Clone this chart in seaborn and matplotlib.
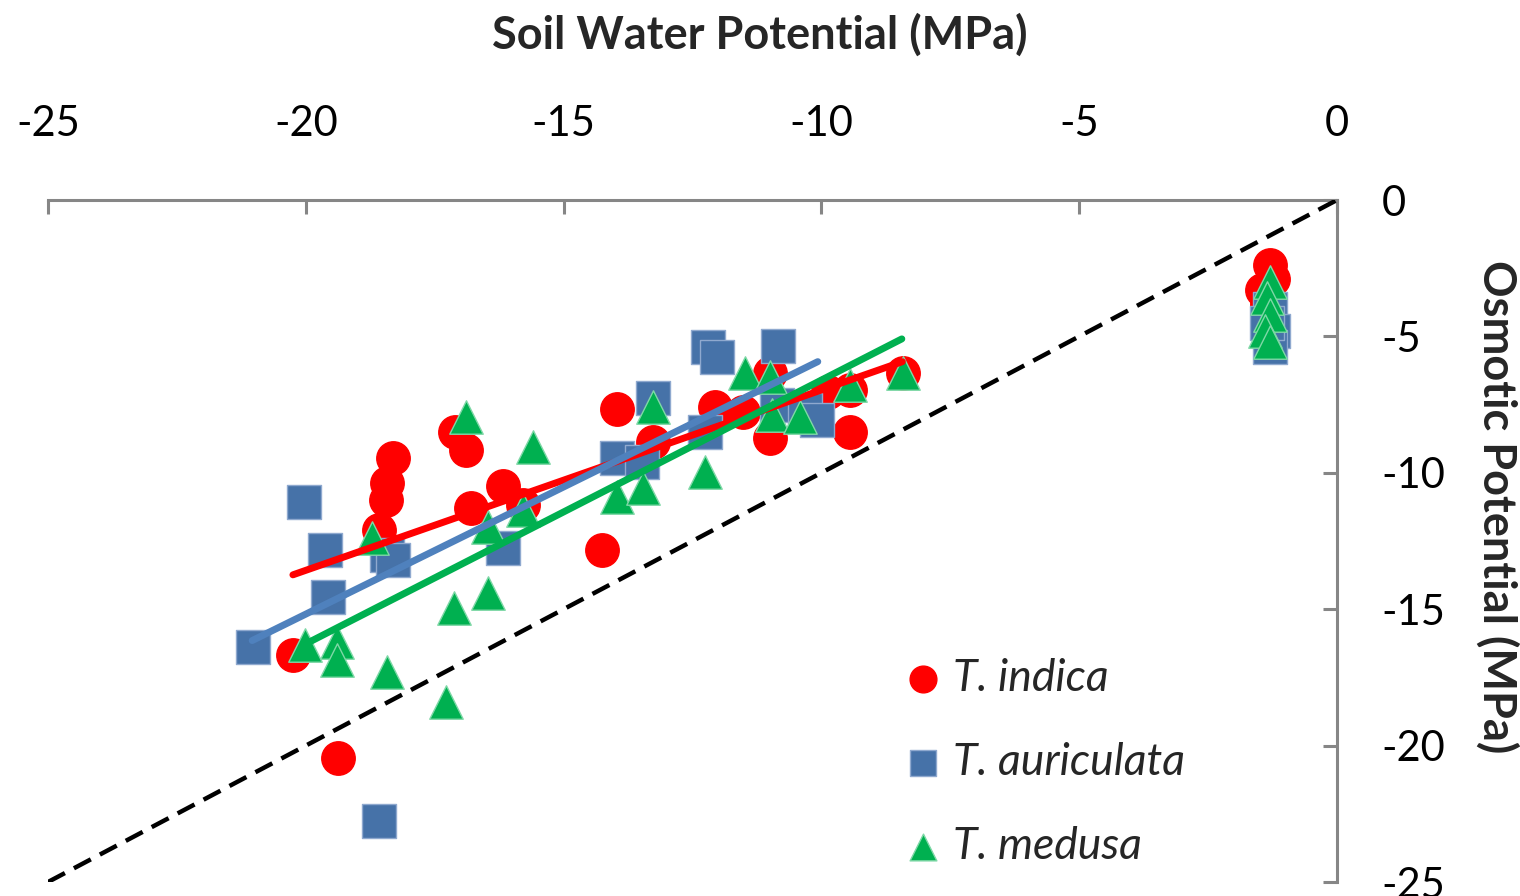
import matplotlib
matplotlib.use("Agg")
import matplotlib.pyplot as plt
import seaborn as sns
import numpy as np
import pandas as pd

# ---------------- data ----------------
species = ["T. indica", "T. auriculata", "T. medusa"]

indica_x = [-20.25, -19.37, -18.58, -18.45, -18.43, -18.31, -17.10, -16.90, -16.80, -16.17,
            -15.79, -14.25, -13.96, -13.27, -12.06, -11.52, -11.00, -11.00, -9.87, -9.45,
            -9.45, -8.42, -1.30, -1.45, -1.25, -1.35]
indica_y = [-16.67, -20.44, -12.09, -11.00, -10.37, -9.45, -8.50, -9.16, -11.28, -10.50,
            -11.17, -12.82, -7.66, -8.86, -7.58, -7.77, -6.34, -8.72, -7.03, -6.96,
            -8.50, -6.34, -2.40, -3.30, -2.90, -3.80]

auric_x = [-21.02, -20.03, -19.63, -19.57, -18.58, -18.43, -18.31, -16.17, -13.96, -13.48,
           -13.27, -12.26, -12.20, -12.02, -10.86, -10.84, -10.32, -10.09, -1.30, -1.25,
           -1.30, -1.35]
auric_y = [-16.37, -11.06, -12.82, -14.54, -22.78, -13.00, -13.19, -12.75, -9.45, -9.60,
           -7.25, -8.50, -5.38, -5.75, -7.50, -5.35, -7.70, -8.06, -4.00, -4.80,
           -5.40, -4.50]

medusa_x = [-20.02, -19.40, -19.40, -18.72, -18.43, -17.28, -17.13, -16.89, -16.47, -16.47,
            -15.79, -15.59, -13.96, -13.46, -13.27, -12.26, -11.48, -11.00, -10.96, -10.41,
            -9.45, -8.42, -1.30, -1.35, -1.30, -1.40, -1.30]
medusa_y = [-16.30, -16.20, -16.85, -12.38, -17.30, -18.40, -14.95, -7.94, -14.40, -12.00,
            -11.36, -9.04, -10.90, -10.55, -7.57, -9.97, -6.34, -6.50, -7.88, -7.95,
            -6.78, -6.34, -3.00, -3.60, -4.20, -4.80, -5.20]

# linear fits (slope, intercept) and fitted x-range per species
fit_slope = [0.661, 0.932, 0.967]
fit_intercept = [-0.355, 3.46, 3.07]
fit_xmin = [-20.25, -21.04, -19.92]
fit_xmax = [-8.43, -10.07, -8.44]

x_ticks = [-25, -20, -15, -10, -5, 0]
y_ticks = [0, -5, -10, -15, -20, -25]

# ---------------- styling ----------------
marker_colors = {"T. indica": "#FF0000", "T. auriculata": "#4672A8", "T. medusa": "#00B050"}
edge_colors = {"T. indica": "#FF0000", "T. auriculata": "#8FA9CF", "T. medusa": "#7FD8A7"}
line_colors = ["#FF0000", "#4F81BD", "#00B050"]
markers = {"T. indica": "o", "T. auriculata": "s", "T. medusa": "^"}

sns.set_theme(style="white")
plt.rcParams["font.family"] = ["Lato", "DejaVu Sans"]
plt.rcParams["axes.unicode_minus"] = False

fig = plt.figure(figsize=(15.2, 8.96), dpi=100)
ax = fig.add_axes([48 / 1520, 1 - 882 / 896, (1337 - 48) / 1520, (882 - 200) / 896])

df = pd.concat([
    pd.DataFrame({"x": indica_x, "y": indica_y, "sp": species[0]}),
    pd.DataFrame({"x": auric_x, "y": auric_y, "sp": species[1]}),
    pd.DataFrame({"x": medusa_x, "y": medusa_y, "sp": species[2]}),
], ignore_index=True)

for sp in species:
    sub = df[df["sp"] == sp]
    sns.scatterplot(data=sub, x="x", y="y", ax=ax, marker=markers[sp], s=580,
                    color=marker_colors[sp], edgecolor=edge_colors[sp], linewidth=1,
                    label=sp, zorder=3, clip_on=False)

# 1:1 line
ax.plot([-25, 0], [-25, 0], color="black", lw=3.2, ls=(0, (4.3, 2.3)), zorder=4)

# regression lines
for i, sp in enumerate(species):
    xs = np.array([fit_xmin[i], fit_xmax[i]])
    ys = fit_slope[i] * xs + fit_intercept[i]
    ax.plot(xs, ys, color=line_colors[i], lw=5, solid_capstyle="round", zorder=5 + i)

ax.set_xlim(-25, 0)
ax.set_ylim(-25, 0)
ax.set_xticks(x_ticks)
ax.set_yticks(y_ticks)
ax.set_xticklabels([str(v) for v in x_ticks])
ax.set_yticklabels([str(v) for v in y_ticks])

for s in ["bottom", "left"]:
    ax.spines[s].set_visible(False)
for s in ["top", "right"]:
    ax.spines[s].set_visible(True)
    ax.spines[s].set_color("#868686")
    ax.spines[s].set_linewidth(2.2)

ax.xaxis.tick_top()
ax.yaxis.tick_right()
ax.tick_params(axis="x", which="both", direction="in", length=10, width=2.2, color="#868686",
               labelsize=30, pad=41, labelcolor="black", top=True, bottom=False)
ax.tick_params(axis="y", which="both", direction="in", length=10, width=2.2, color="#868686",
               labelsize=30, pad=32, labelcolor="black", right=True, left=False)

ax.set_xlabel("Soil Water Potential (MPa)", fontsize=32.5, fontweight="bold")
ax.xaxis.set_label_position("top")
ax.xaxis.set_label_coords((760 - 48) / 1289, (882 - 35) / 682)
ax.xaxis.label.set_va("center")

ax.set_ylabel("Osmotic Potential (MPa)", fontsize=32.5, fontweight="bold", rotation=270)
ax.yaxis.set_label_position("right")
ax.yaxis.set_label_coords((1497 - 48) / 1289, (882 - 507) / 682)
ax.yaxis.label.set_va("center")

ax.grid(False)

leg = ax.legend(loc="upper left", bbox_to_anchor=(906 / 1520, 1 - 657.5 / 896),
                bbox_transform=fig.transFigure, frameon=False,
                prop={"style": "italic", "size": 32}, markerscale=0.8,
                handlelength=0.75, handletextpad=0.3, labelspacing=0.97, borderpad=0,
                borderaxespad=0)

fig.savefig("out.png", dpi=100)
